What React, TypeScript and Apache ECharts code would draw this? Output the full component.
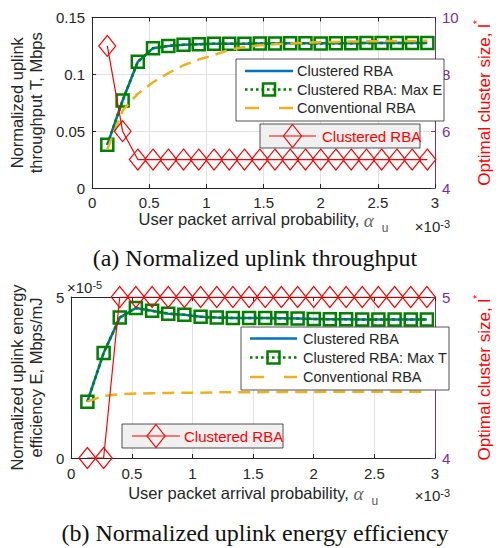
import React, { useEffect, useRef } from "react";
import * as echarts from "echarts";

// ---- data ----
const alphaU = [0.133, 0.267, 0.4, 0.533, 0.667, 0.8, 0.933, 1.067, 1.2, 1.333, 1.467, 1.6, 1.733, 1.867, 2.0, 2.133, 2.267, 2.4, 2.533, 2.667, 2.8, 2.933];

// (a) throughput, Mbps
const thrClustered = [0.038, 0.077, 0.111, 0.123, 0.125, 0.126, 0.1265, 0.127, 0.127, 0.127, 0.1272, 0.1272, 0.1273, 0.1273, 0.1274, 0.1274, 0.1274, 0.1275, 0.1275, 0.1275, 0.1275, 0.1275];
const thrClusteredMaxE = [0.038, 0.077, 0.111, 0.123, 0.125, 0.126, 0.1265, 0.127, 0.127, 0.127, 0.1272, 0.1272, 0.1273, 0.1273, 0.1271, 0.1274, 0.1274, 0.1275, 0.1275, 0.1275, 0.1275, 0.1275];
const thrConventional = [0.034, 0.068, 0.083, 0.093, 0.101, 0.108, 0.113, 0.117, 0.1215, 0.124, 0.1255, 0.1265, 0.1272, 0.1278, 0.1282, 0.1285, 0.1288, 0.129, 0.1292, 0.1293, 0.1294, 0.1295];
const thrClusterSize = [9, 6, 5, 5, 5, 5, 5, 5, 5, 5, 5, 5, 5, 5, 5, 5, 5, 5, 5, 5, 5, 5];

// (b) energy efficiency, x1e-5 Mbps/mJ
const eeClustered = [1.75, 3.26, 4.36, 4.66, 4.57, 4.48, 4.45, 4.39, 4.36, 4.35, 4.35, 4.35, 4.34, 4.33, 4.32, 4.31, 4.31, 4.3, 4.3, 4.3, 4.3, 4.3];
const eeClusteredMaxT = [1.75, 3.26, 4.36, 4.66, 4.57, 4.48, 4.45, 4.39, 4.36, 4.35, 4.35, 4.35, 4.34, 4.33, 4.32, 4.31, 4.31, 4.3, 4.3, 4.3, 4.3, 4.3];
const eeConventional = [1.75, 1.93, 1.98, 2.0, 2.01, 2.02, 2.03, 2.03, 2.04, 2.04, 2.04, 2.05, 2.05, 2.05, 2.05, 2.06, 2.06, 2.06, 2.06, 2.06, 2.06, 2.06];
const eeClusterSize = [4, 4, 5, 5, 5, 5, 5, 5, 5, 5, 5, 5, 5, 5, 5, 5, 5, 5, 5, 5, 5, 5];

const FONT = "'Liberation Sans', Arial, Helvetica, sans-serif";
const SERIF = "'Liberation Serif', 'Times New Roman', serif";
const DARK = "#262626";
const PURPLE = "#7E2F8E";
const BLUE = "#0072BD";
const GREEN = "#008000";
const YELLOW = "#EDB120";
const RED = "#FF0000";
const GRID = "#e2e2e2";

const pair = (ys: number[]) => alphaU.map((x, i) => [x, ys[i]]);

const xName = "{t|User packet arrival probability, }{a|α}{u|u}";
const xNameStyle = {
  color: DARK,
  fontFamily: FONT,
  fontSize: 16.5,
  rich: {
    t: { fontFamily: FONT, fontSize: 16.5, color: DARK, verticalAlign: "top", lineHeight: 18 },
    a: { fontFamily: SERIF, fontStyle: "italic", fontSize: 19, color: "#666", verticalAlign: "top", lineHeight: 18 },
    u: { fontFamily: FONT, fontSize: 12, color: "#555", verticalAlign: "bottom", lineHeight: 23, padding: [0, 0, 0, 8] },
  },
};

const rightName = "{t|Optimal cluster size, l}{s|*}";
const rightNameStyle = {
  color: RED,
  fontFamily: FONT,
  fontSize: 17,
  rich: {
    t: { fontFamily: FONT, fontSize: 17, color: RED, verticalAlign: "bottom", lineHeight: 22 },
    s: { fontFamily: FONT, fontSize: 11, color: RED, verticalAlign: "top", lineHeight: 11 },
  },
};

function xBottom(gi: number, labelMargin: number, nameGap: number) {
  return {
    type: "value",
    gridIndex: gi,
    position: "bottom",
    min: 0,
    max: 3,
    interval: 0.5,
    axisLine: { show: true, onZero: false, lineStyle: { color: DARK, width: 1 } },
    axisTick: { show: true, inside: true, length: 4, lineStyle: { color: DARK } },
    axisLabel: { show: true, color: DARK, fontSize: 15, fontFamily: FONT, margin: labelMargin },
    splitLine: { show: true, lineStyle: { color: GRID, width: 1 } },
    name: xName,
    nameLocation: "middle",
    nameGap,
    nameTextStyle: xNameStyle,
  };
}

function xTop(gi: number) {
  return {
    type: "value",
    gridIndex: gi,
    position: "top",
    min: 0,
    max: 3,
    interval: 0.5,
    axisLine: { show: true, onZero: false, lineStyle: { color: DARK, width: 1 } },
    axisTick: { show: true, inside: true, length: 4, lineStyle: { color: DARK } },
    axisLabel: { show: false },
    splitLine: { show: false },
  };
}

function yLeft(gi: number, min: number, max: number, interval: number, name: string, nameGap: number, grid: boolean) {
  return {
    type: "value",
    gridIndex: gi,
    position: "left",
    min,
    max,
    interval,
    axisLine: { show: true, onZero: false, lineStyle: { color: DARK, width: 1 } },
    axisTick: { show: true, inside: true, length: 4, lineStyle: { color: DARK } },
    axisLabel: { show: true, color: DARK, fontSize: 15, fontFamily: FONT, margin: 7 },
    splitLine: { show: grid, lineStyle: { color: GRID, width: 1 } },
    name,
    nameLocation: "middle",
    nameGap,
    nameTextStyle: { color: DARK, fontFamily: FONT, fontSize: 16.5, lineHeight: 18.5 },
  };
}

function yRight(gi: number, min: number, max: number, interval: number) {
  return {
    type: "value",
    gridIndex: gi,
    position: "right",
    min,
    max,
    interval,
    axisLine: { show: true, onZero: false, lineStyle: { color: PURPLE, width: 1 } },
    axisTick: { show: true, inside: true, length: 4, lineStyle: { color: PURPLE } },
    axisLabel: { show: true, color: PURPLE, fontSize: 15, fontFamily: FONT, margin: 7 },
    splitLine: { show: false },
    name: rightName,
    nameLocation: "middle",
    nameRotate: 90,
    nameGap: 36,
    nameTextStyle: rightNameStyle,
  };
}

function seriesSet(xi: number, yl: number, yr: number, blue: number[], green: number[], greenName: string, yellow: number[], red: number[]) {
  return [
    {
      type: "line", name: "Clustered RBA", xAxisIndex: xi, yAxisIndex: yl, data: pair(blue),
      showSymbol: false, symbol: "none", lineStyle: { color: BLUE, width: 2.5 }, itemStyle: { color: BLUE }, z: 2,
    },
    {
      type: "line", name: greenName, xAxisIndex: xi, yAxisIndex: yl, data: pair(green),
      symbol: "rect", symbolSize: 12,
      lineStyle: { color: GREEN, width: 2.5, type: [3, 3] },
      itemStyle: { color: "transparent", borderColor: GREEN, borderWidth: 2.5 }, z: 3,
    },
    {
      type: "line", name: "Conventional RBA", xAxisIndex: xi, yAxisIndex: yl, data: pair(yellow),
      showSymbol: false, symbol: "none", lineStyle: { color: YELLOW, width: 2.5, type: [12, 7] }, itemStyle: { color: YELLOW }, z: 4,
    },
    {
      type: "line", name: "Clustered RBA (cluster size)", xAxisIndex: xi, yAxisIndex: yr, data: pair(red),
      symbol: "diamond", symbolSize: [17, 21],
      lineStyle: { color: RED, width: 1.2 },
      itemStyle: { color: "transparent", borderColor: RED, borderWidth: 1.2 }, z: 5,
    },
  ];
}

// ---- legend drawing helpers (decoration only) ----
const hline = (x1: number, x2: number, y: number, stroke: string, lineWidth: number, lineDash?: number[]) => ({
  type: "line", z: 100, shape: { x1, y1: y, x2, y2: y }, style: { stroke, lineWidth, lineDash },
});
const txt = (x: number, y: number, text: string, fill: string, fontSize = 14.5, align = "left", extra: any = {}) => ({
  type: "text", z: 101, x, y,
  style: { text, fill, fontSize, fontFamily: FONT, textAlign: align, textVerticalAlign: "middle", verticalAlign: "middle", ...extra },
});
const square = (cx: number, cy: number, s: number) => ({
  type: "rect", z: 101, shape: { x: cx - s / 2, y: cy - s / 2, width: s, height: s },
  style: { fill: "none", stroke: GREEN, lineWidth: 2.5 },
});
const diamond = (cx: number, cy: number, w: number, h: number) => ({
  type: "polygon", z: 101,
  shape: { points: [[cx, cy - h], [cx + w, cy], [cx, cy + h], [cx - w, cy]] },
  style: { fill: "none", stroke: RED, lineWidth: 1.2 },
});
const box = (x: number, y: number, width: number, height: number, fill: string) => ({
  type: "rect", z: 99, shape: { x, y, width, height }, style: { fill, stroke: DARK, lineWidth: 0.8 },
});

function mainLegend(x: number, y: number, w: number, h: number, rows: number[], lx1: number, lx2: number, tx: number, greenLabel: string) {
  const mid = (lx1 + lx2) / 2;
  return [
    box(x, y, w, h, "#ffffff"),
    hline(lx1, lx2, rows[0], BLUE, 2.5),
    txt(tx, rows[0], "Clustered RBA", DARK),
    hline(lx1, lx2, rows[1], GREEN, 2.5, [2.5, 3]),
    square(mid, rows[1], 12),
    txt(tx, rows[1], greenLabel, DARK),
    hline(lx1, lx2, rows[2], YELLOW, 2.5, [14, 20]),
    txt(tx, rows[2], "Conventional RBA", DARK),
  ];
}

function redLegend(x: number, y: number, w: number, h: number, lx1: number, lx2: number, tx: number) {
  const cy = y + h / 2;
  return [
    box(x, y, w, h, "#f0f0f0"),
    hline(lx1, lx2, cy, RED, 1.2),
    diamond((lx1 + lx2) / 2, cy, 9, 11.5),
    txt(tx, cy, "Clustered RBA", RED, 15),
  ];
}

const expText = (x: number, y: number, exp: string, align: string) => ({
  type: "text", z: 101, x, y,
  style: {
    text: "×10{s|" + exp + "}",
    fill: DARK, fontSize: 15, fontFamily: FONT, textAlign: align, textVerticalAlign: "middle", verticalAlign: "middle",
    rich: {
      s: { fontSize: 11, fontFamily: FONT, fill: DARK, verticalAlign: "top", lineHeight: 11 },
    },
  },
});

export default function App() {
  const ref = useRef<HTMLDivElement>(null);
  useEffect(() => {
    if (!ref.current) return;
    const chart = echarts.init(ref.current, undefined, { renderer: "svg" });
    const option: any = {
      animation: false,
      backgroundColor: "#ffffff",
      textStyle: { fontFamily: FONT },
      grid: [
        { left: 90, top: 17.5, width: 360, height: 170.5, containLabel: false },
        { left: 68, top: 297, width: 382, height: 161, containLabel: false },
      ],
      xAxis: [xBottom(0, 7, 20), xTop(0), xBottom(1, 8, 26), xTop(1)],
      yAxis: [
        yLeft(0, 0, 0.15, 0.05, "Normalized uplink\nthroughput T, Mbps", 42, true),
        yRight(0, 4, 10, 2),
        yLeft(1, 0, 5, 5, "Normalized uplink energy\nefficiency E, Mbps/mJ", 21, true),
        yRight(1, 4, 5, 1),
      ],
      series: [
        ...seriesSet(0, 0, 1, thrClustered, thrClusteredMaxE, "Clustered RBA: Max E", thrConventional, thrClusterSize),
        ...seriesSet(2, 2, 3, eeClustered, eeClusteredMaxT, "Clustered RBA: Max T", eeConventional, eeClusterSize),
      ],
      graphic: [
        ...mainLegend(236, 59, 208, 62, [71, 89.5, 108], 245, 293, 297, "Clustered RBA: Max E"),
        ...redLegend(260, 124, 160, 24, 269, 316, 322),
        ...mainLegend(241, 327, 208, 63, [338.5, 357.5, 377], 250, 297, 303, "Clustered RBA: Max T"),
        ...redLegend(122, 424, 161, 24, 132, 180, 184),
        expText(450, 226, "-3", "right"),
        expText(450, 495, "-3", "right"),
        expText(67, 287, "-5", "left"),
        {
          type: "text", z: 101, x: 255, y: 258,
          style: { text: "(a) Normalized uplink throughput", fill: "#111", fontSize: 24, fontFamily: SERIF, textAlign: "center", textVerticalAlign: "middle", verticalAlign: "middle" },
        },
        {
          type: "text", z: 101, x: 255, y: 533,
          style: { text: "(b) Normalized uplink energy efficiency", fill: "#111", fontSize: 24, fontFamily: SERIF, textAlign: "center", textVerticalAlign: "middle", verticalAlign: "middle" },
        },
      ],
    };
    chart.setOption(option);
    return () => chart.dispose();
  }, []);
  return <div ref={ref} style={{ position: "fixed", left: 0, top: 0, width: 501, height: 548, background: "#fff" }} />;
}
